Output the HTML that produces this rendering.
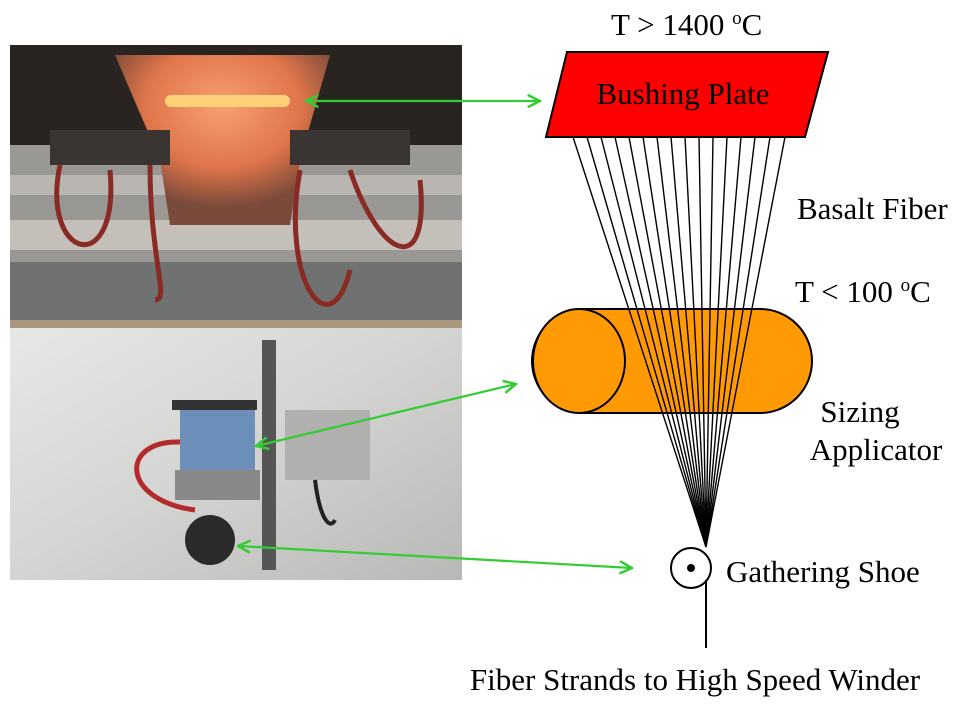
<!DOCTYPE html>
<html><head><meta charset="utf-8"><style>
html,body{margin:0;padding:0;background:#fff;}
svg{display:block}
text{font-family:"Liberation Serif",serif;font-size:31px;fill:#000}
</style></head><body>
<svg width="959" height="705" viewBox="0 0 959 705" xmlns="http://www.w3.org/2000/svg">
<defs>
<radialGradient id="glow" cx="0.5" cy="0.3" r="0.6">
<stop offset="0" stop-color="#f7a070"/><stop offset="0.6" stop-color="#e0754a"/><stop offset="1" stop-color="#7a4a3a"/>
</radialGradient>
<linearGradient id="wall" x1="0" y1="0" x2="1" y2="1">
<stop offset="0" stop-color="#e8e8e6"/><stop offset="0.5" stop-color="#d4d4d2"/><stop offset="1" stop-color="#b8b8b6"/>
</linearGradient>
<marker id="ah" viewBox="0 0 10 10" refX="9" refY="5" markerWidth="7" markerHeight="7" orient="auto-start-reverse">
<path d="M1,1 L9,5 L1,9" fill="none" stroke="#33cc33" stroke-width="1.6"/>
</marker>
</defs>
<g>
<rect x="10" y="45" width="452" height="535" fill="#8c8c8a"/>
<rect x="10" y="45" width="452" height="100" fill="#2a2420"/>
<rect x="10" y="145" width="452" height="120" fill="#9a9894"/>
<rect x="10" y="175" width="452" height="20" fill="#b9b5b0"/>
<rect x="10" y="220" width="452" height="30" fill="#c4bfb8"/>
<rect x="10" y="262" width="452" height="60" fill="#6f7270"/>
<rect x="10" y="320" width="452" height="260" fill="url(#wall)"/>
<rect x="10" y="320" width="452" height="8" fill="#a89880"/>
<polygon points="115,55 330,55 300,160 290,225 170,225 160,160" fill="url(#glow)"/>
<rect x="165" y="95" width="125" height="12" rx="6" fill="#ffd27a"/>
<rect x="50" y="130" width="120" height="35" fill="#3a3432"/>
<rect x="290" y="130" width="120" height="35" fill="#3a3432"/>
<path d="M60,165 C40,260 120,280 110,170 M150,165 C150,260 170,300 155,300 M300,170 C280,280 330,350 350,270 M350,170 C380,260 430,280 420,180" fill="none" stroke="#8a2a25" stroke-width="5"/>
<rect x="262" y="340" width="14" height="230" fill="#555"/>
<rect x="180" y="405" width="75" height="70" fill="#6b8fb8"/>
<rect x="172" y="400" width="85" height="10" fill="#333"/>
<rect x="175" y="470" width="85" height="30" fill="#888"/>
<rect x="285" y="410" width="85" height="70" fill="#b0b0ae"/>
<path d="M180,442 C120,440 120,500 195,510" fill="none" stroke="#b22a2a" stroke-width="5"/>
<circle cx="210" cy="540" r="25" fill="#2a2a2a"/>
<path d="M315,480 C320,520 330,530 335,520" fill="none" stroke="#222" stroke-width="4"/>
</g>
<rect x="532" y="309" width="280" height="104" rx="52" fill="#ff9a05" stroke="#000" stroke-width="2"/>
<ellipse cx="579" cy="361" rx="46" ry="52" fill="#ff9a05" stroke="#000" stroke-width="2"/>
<g stroke="#000" stroke-width="1.4">
<line x1="573" y1="137" x2="706" y2="547"/><line x1="587" y1="137" x2="706" y2="547"/>
<line x1="601" y1="137" x2="706" y2="547"/><line x1="615" y1="137" x2="706" y2="547"/>
<line x1="629" y1="137" x2="706" y2="547"/><line x1="643" y1="137" x2="706" y2="547"/>
<line x1="657" y1="137" x2="706" y2="547"/><line x1="671" y1="137" x2="706" y2="547"/>
<line x1="685" y1="137" x2="706" y2="547"/><line x1="699" y1="137" x2="706" y2="547"/>
<line x1="713" y1="137" x2="706" y2="547"/><line x1="727" y1="137" x2="706" y2="547"/>
<line x1="741" y1="137" x2="706" y2="547"/><line x1="755" y1="137" x2="706" y2="547"/>
<line x1="770" y1="137" x2="706" y2="547"/><line x1="785" y1="137" x2="706" y2="547"/>
</g>
<polygon points="567,52 828,52 805,137 546,137" fill="#ff0000" stroke="#000" stroke-width="2"/>
<text x="683" y="104" text-anchor="middle" font-size="32">Bushing Plate</text>
<circle cx="691" cy="568" r="20" fill="#fff" stroke="#000" stroke-width="2"/>
<circle cx="691" cy="568" r="4" fill="#000"/>
<line x1="706" y1="580" x2="706" y2="648" stroke="#000" stroke-width="2"/>
<g stroke="#33cc33" stroke-width="2.2" fill="none">
<line x1="306" y1="101" x2="540" y2="101" marker-start="url(#ah)" marker-end="url(#ah)"/>
<line x1="256" y1="446" x2="516" y2="384" marker-start="url(#ah)" marker-end="url(#ah)"/>
<line x1="238" y1="546" x2="632" y2="568" marker-start="url(#ah)" marker-end="url(#ah)"/>
</g>
<text x="611" y="35">T &gt; 1400 <tspan font-size="19" dy="-11">o</tspan><tspan dy="11">C</tspan></text>
<text x="797" y="219">Basalt Fiber</text>
<text x="795" y="302">T &lt; 100 <tspan font-size="19" dy="-11">o</tspan><tspan dy="11">C</tspan></text>
<text x="860" y="422" text-anchor="middle">Sizing</text>
<text x="876" y="460" text-anchor="middle">Applicator</text>
<text x="726" y="582">Gathering Shoe</text>
<text x="695" y="690" text-anchor="middle">Fiber Strands to High Speed Winder</text>
</svg>
</body></html>
